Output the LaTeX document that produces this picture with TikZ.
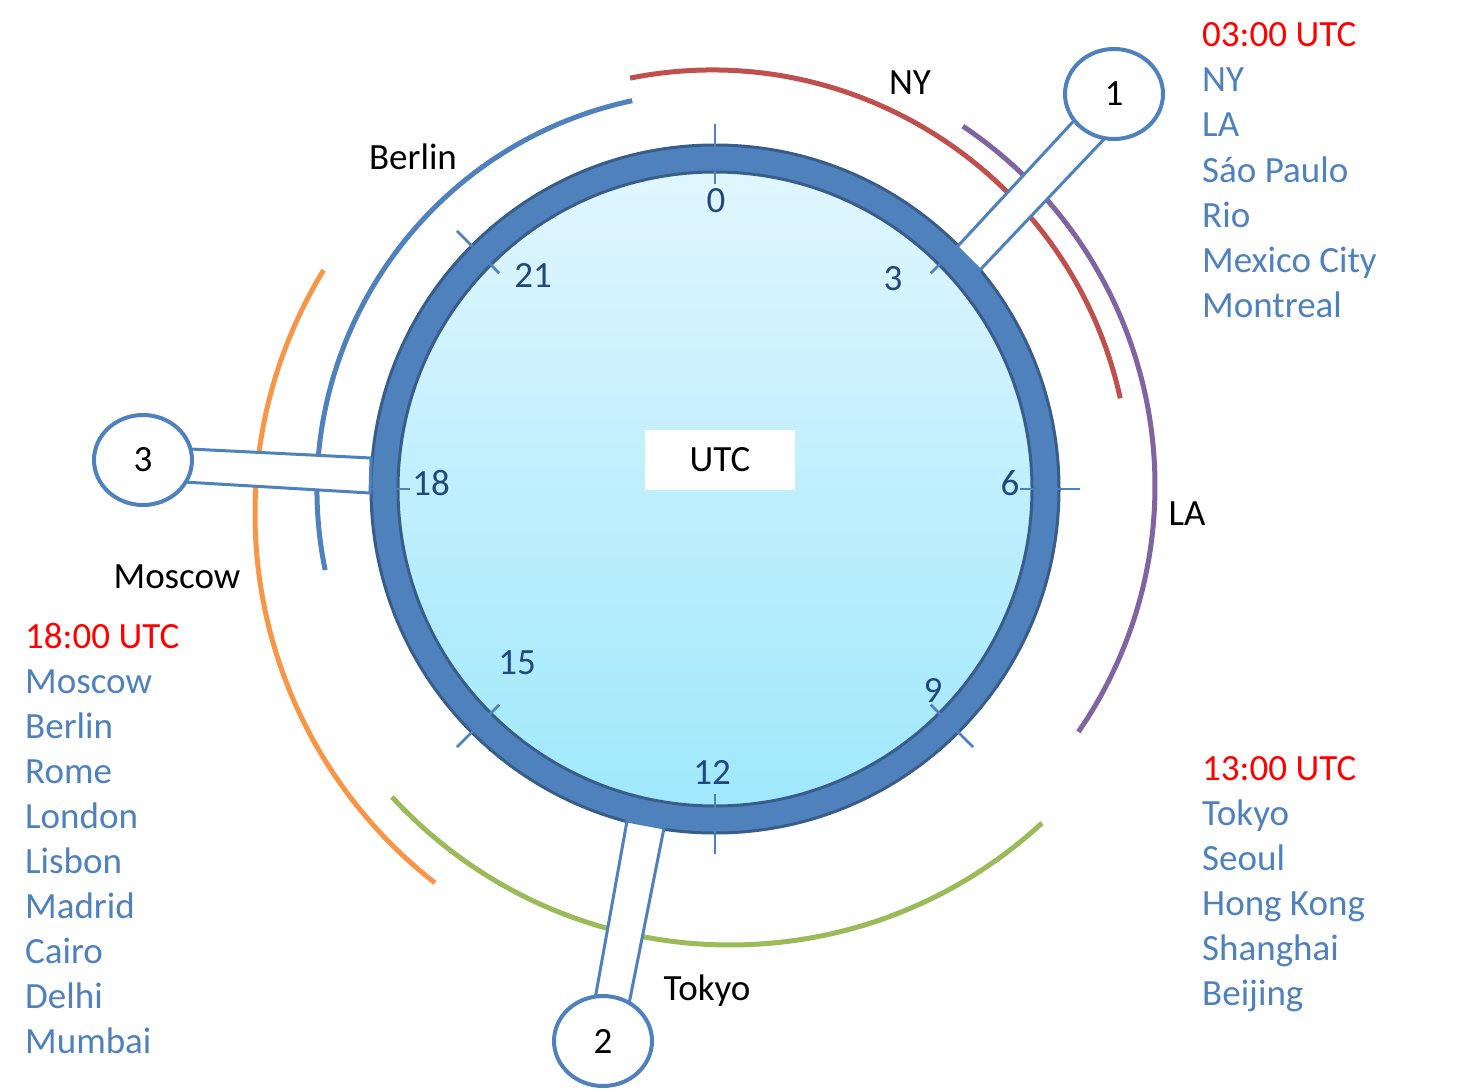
\documentclass[tikz,border=0pt]{standalone}
\usepackage{fontspec}
\setmainfont{Carlito}
\usetikzlibrary{shapes.geometric}
\definecolor{ringblue}{HTML}{4F81BD}
\definecolor{ringdark}{HTML}{385D8A}
\definecolor{numblue}{HTML}{1F497D}
\definecolor{arcred}{HTML}{C0504D}
\definecolor{arcpurple}{HTML}{8064A2}
\definecolor{arcorange}{HTML}{F79646}
\definecolor{arcgreen}{HTML}{9BBB59}
\definecolor{facetop}{HTML}{E0F6FD}
\definecolor{facebot}{HTML}{A0E8FC}
\definecolor{timered}{HTML}{FF0000}
\begin{document}
\begin{tikzpicture}[x=1pt,y=1pt,
  txt/.style={font=\fontsize{37}{45}\selectfont, inner sep=0pt},
  listitem/.style={txt, text=ringblue, anchor=base west},
  timehead/.style={txt, text=timered, anchor=base west},
  numlbl/.style={txt, text=numblue, anchor=base},
  citylbl/.style={txt, text=black, anchor=base},
  arcline/.style={line width=5pt},
  tickline/.style={draw=ringblue, line width=2.5pt},
  stemband/.style={draw=ringblue, fill=white, line width=3pt},
  hub/.style={ellipse, draw=ringblue, fill=white, line width=4pt,
    minimum width=98pt, minimum height=90pt, inner sep=0pt,
    font=\fontsize{37}{45}\selectfont, text=black}]
\fill[white] (0,0) rectangle (1461,-1089);
\useasboundingbox (0,0) rectangle (1461,-1089);
\coordinate (C) at (715,-489);
% time-zone arcs
\draw[arcline, arcred]    (712,-488) ++(101.3:418) arc[start angle=101.3, end angle=12.4, radius=418];
\draw[arcline, arcpurple] (722,-486) ++(56.2:433) arc[start angle=56.2, end angle=-34.6, radius=433];
\draw[arcline, ringblue]  (715,-490) ++(102:398) arc[start angle=102, end angle=191.6, radius=398];
\draw[arcline, arcorange] (723,-514) ++(148.6:468) arc[start angle=148.6, end angle=232, radius=468];
\draw[arcline, arcgreen]  (730,-485) ++(-137.3:460) arc[start angle=-137.3, end angle=-47.3, radius=460];
% dial
\shade[top color=facetop, bottom color=facebot] (C) circle (317);
\draw[ringblue, line width=28pt] (C) circle (331);
\draw[ringdark, line width=3pt] (C) circle (344);
\draw[ringdark, line width=3pt] (C) circle (317);
\foreach \a in {0,45,...,315}
  \draw[tickline] (C) ++(\a:305) -- ++(\a:60);
% hour numbers
\node[numlbl] (h0)  at (716,-212) {0};
\node[numlbl] (h3)  at (893,-290) {3};
\node[numlbl] (h6)  at (1010,-495) {6};
\node[numlbl] (h9)  at (933,-702) {9};
\node[numlbl] (h12) at (712,-784) {12};
\node[numlbl] (h15) at (517,-674) {15};
\node[numlbl] (h18) at (431,-495) {18};
\node[numlbl] (h21) at (533,-287) {21};
\node[txt, fill=white, minimum width=150pt, minimum height=60pt, text=black] (utc) at (720,-460) {UTC};
% stems
\coordinate (s1a) at (957,-247);
\coordinate (s1b) at (1095,-98);
\coordinate (s1c) at (1126,-116);
\coordinate (s1d) at (980,-270);
\draw[stemband] (s1a) -- (s1b) -- (s1c) -- (s1d) -- cycle;
\coordinate (s2a) at (627,-821);
\coordinate (s2b) at (590,-1027);
\coordinate (s2c) at (623,-1034);
\coordinate (s2d) at (664,-828);
\draw[stemband] (s2a) -- (s2b) -- (s2c) -- (s2d) -- cycle;
\coordinate (s3a) at (371,-458);
\coordinate (s3b) at (150,-447);
\coordinate (s3c) at (150,-480);
\coordinate (s3d) at (370,-493);
\draw[stemband] (s3a) -- (s3b) -- (s3c) -- (s3d) -- cycle;
\node[hub] (n1) at (1114,-94) {1};
\node[hub] (n2) at (603,-1041) {2};
\node[hub] (n3) at (143,-460) {3};
% city labels near arcs
\node[citylbl] (lny)  at (910,-95) {NY};
\node[citylbl] (lber) at (413,-169) {Berlin};
\node[citylbl] (lla)  at (1187,-525) {LA};
\node[citylbl] (lmos) at (177,-588) {Moscow};
\node[citylbl] (ltok) at (707,-1000) {Tokyo};
% lists
\node[timehead] (t1) at (1202,-47) {03:00 UTC};
\foreach \c [count=\i] in {NY,LA,Sáo Paulo,Rio,Mexico City,Montreal}
  \node[listitem] (ra\i) at (1202,-47-45*\i) {\c};
\node[timehead] (t3) at (25,-648) {18:00 UTC};
\foreach \c [count=\i] in {Moscow,Berlin,Rome,London,Lisbon,Madrid,Cairo,Delhi,Mumbai}
  \node[listitem] (la\i) at (25,-648-45*\i) {\c};
\node[timehead] (t2) at (1202,-780) {13:00 UTC};
\foreach \c [count=\i] in {Tokyo,Seoul,Hong Kong,Shanghai,Beijing}
  \node[listitem] (rb\i) at (1202,-780-45*\i) {\c};
\end{tikzpicture}
\end{document}
